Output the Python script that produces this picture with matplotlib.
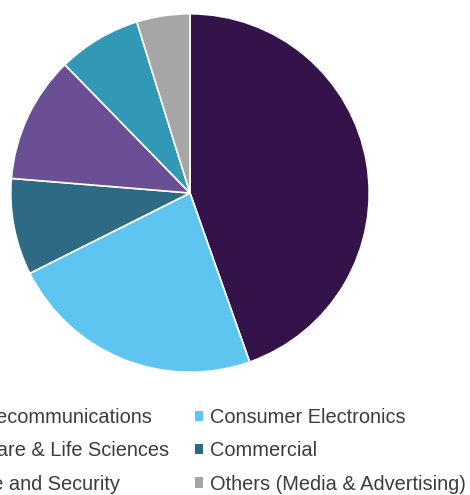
import matplotlib
matplotlib.use("Agg")
import matplotlib.pyplot as plt
from matplotlib.patches import Patch

# Market share by application (pie order, clockwise from 12 o'clock)
segments = ["IT & Telecommunications", "Consumer Electronics", "Commercial",
            "Healthcare & Life Sciences", "Defense and Security",
            "Others (Media & Advertising)"]
shares = [44.6, 23.0, 8.7, 11.4, 7.5, 4.8]
colors = ["#33134a", "#5ec5f0", "#2e6a85", "#6b4f94", "#3198b5", "#a6a6a6"]

# Legend layout: two columns, filled column by column
legend_order = ["IT & Telecommunications", "Healthcare & Life Sciences",
                "Defense and Security", "Consumer Electronics",
                "Commercial", "Others (Media & Advertising)"]

plt.rcParams["font.family"] = ["Liberation Sans", "DejaVu Sans"]

W, H = 470, 495
fig = plt.figure(figsize=(W / 100, H / 100), dpi=100)
fig.patch.set_facecolor("white")

cx, cy, r = 190, 193, 181
ax = fig.add_axes([(cx - r) / W, 1 - (cy + r) / H, 2 * r / W, 2 * r / H])
ax.pie(shares, colors=colors, startangle=90, counterclock=False, radius=1,
       wedgeprops=dict(edgecolor="white", linewidth=1.2))
ax.set_xlim(-1.01, 1.01)
ax.set_ylim(-1.01, 1.01)
ax.set_aspect("equal")
ax.axis("off")

color_of = dict(zip(segments, colors))
handles = [Patch(facecolor=color_of[s], edgecolor="none", label=s) for s in legend_order]
fig.legend(handles=handles, ncol=2, loc="upper right",
           bbox_to_anchor=(466 / W, 1 - 408 / H), frameon=False,
           borderpad=0, borderaxespad=0, fontsize=14.4,
           handlelength=0.42, handleheight=0.42, handletextpad=0.35,
           columnspacing=1.3, labelspacing=0.72, labelcolor="#3c3c3c")

fig.savefig("out.png", dpi=100, facecolor="white")
